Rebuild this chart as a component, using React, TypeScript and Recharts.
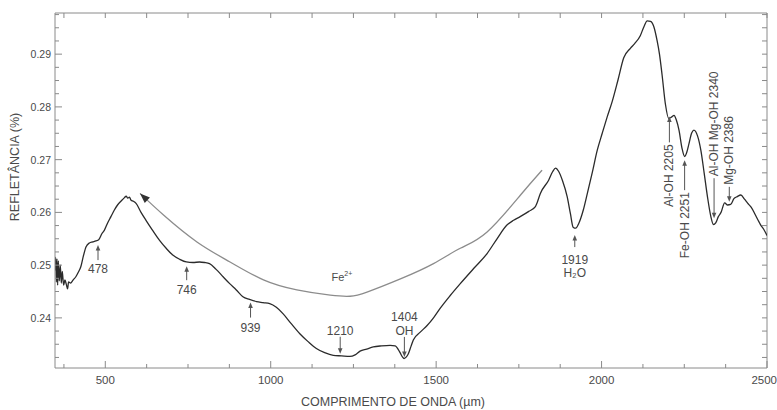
import React from 'react';
import { LineChart, Line, XAxis, YAxis, ReferenceDot } from 'recharts';

// reflectance spectrum
const wavelength = [
  348, 350, 352, 354, 356, 358, 361, 364, 367, 370,
  374, 378, 382, 386, 389, 395, 403, 411, 418, 426,
  434, 442, 452, 462, 472, 480, 490, 497, 507, 517,
  527, 537, 550, 558, 563, 568, 573, 578, 585, 593,
  608, 623, 643, 664, 684, 704, 725, 745, 765, 785,
  800, 815, 835, 856, 876, 896, 916, 936, 957, 977,
  997, 1017, 1037, 1062, 1088, 1113, 1138, 1163, 1189, 1214,
  1239, 1255, 1270, 1290, 1310, 1335, 1361, 1376, 1391, 1398,
  1403, 1410, 1416, 1424, 1431, 1452, 1472, 1492, 1512, 1542,
  1573, 1614, 1654, 1684, 1714, 1734, 1754, 1780, 1800, 1805,
  1815, 1840, 1852, 1861, 1870, 1882, 1896, 1906, 1914, 1922,
  1931, 1945, 1957, 1972, 1987, 2002, 2017, 2032, 2050, 2067,
  2087, 2100, 2117, 2128, 2138, 2148, 2158, 2168, 2175, 2183,
  2193, 2203, 2212, 2219, 2226, 2234, 2243, 2251, 2258, 2264,
  2272, 2279, 2290, 2300, 2310, 2320, 2330, 2338, 2345, 2353,
  2361, 2372, 2381, 2390, 2400, 2410, 2421, 2432, 2442, 2452,
  2465, 2475, 2482, 2490, 2500,
];
const reflectance = [
  0.2490, 0.2515, 0.2468, 0.2512, 0.2462, 0.2508, 0.2470, 0.2500, 0.2466, 0.2488,
  0.2462, 0.2472, 0.2464, 0.2455, 0.2468, 0.2466, 0.2472, 0.2478, 0.2486, 0.2497,
  0.2518, 0.2535, 0.2542, 0.2544, 0.2546, 0.2548, 0.2560, 0.2566, 0.2580, 0.2592,
  0.2604, 0.2614, 0.2623, 0.2628, 0.2631, 0.2627, 0.2629, 0.2623, 0.2621, 0.2617,
  0.2600, 0.2585, 0.2566, 0.2547, 0.2532, 0.2519, 0.2511, 0.2506, 0.2505, 0.2506,
  0.2505, 0.2503, 0.2492, 0.2478, 0.2465, 0.2453, 0.2440, 0.2435, 0.2431, 0.2429,
  0.2427, 0.2420, 0.2408, 0.2389, 0.2370, 0.2355, 0.2342, 0.2334, 0.2329, 0.2328,
  0.2327, 0.2330, 0.2337, 0.2341, 0.2345, 0.2347, 0.2348, 0.2347, 0.2334, 0.2326,
  0.2323, 0.2326, 0.2332, 0.2346, 0.2358, 0.2373, 0.2385, 0.2400, 0.2418, 0.2442,
  0.2465, 0.2494, 0.2522, 0.2550, 0.2576, 0.2585, 0.2592, 0.2602, 0.2611, 0.2618,
  0.2636, 0.2661, 0.2677, 0.2684, 0.2678, 0.2660, 0.2630, 0.2597, 0.2572, 0.2570,
  0.2579, 0.2605, 0.2636, 0.2676, 0.2718, 0.2750, 0.2781, 0.2810, 0.2852, 0.2893,
  0.2911, 0.2920, 0.2935, 0.2952, 0.2963, 0.2962, 0.2952, 0.2925, 0.2900, 0.2860,
  0.2805, 0.2778, 0.2781, 0.2784, 0.2775, 0.2756, 0.2722, 0.2706, 0.2715, 0.2730,
  0.2750, 0.2756, 0.2745, 0.2718, 0.2675, 0.2630, 0.2593, 0.2577, 0.2580, 0.2592,
  0.2600, 0.2618, 0.2614, 0.2615, 0.2626, 0.2630, 0.2633, 0.2625, 0.2617, 0.2610,
  0.2595, 0.2583, 0.2575, 0.2568, 0.2556,
];

// Fe2+ continuum arc (gray, arrow at its left end)
const arcWavelength = [605, 676, 777, 877, 978, 1079, 1180, 1240, 1291, 1392, 1492, 1573, 1654, 1755, 1820];
const arcReflectance = [0.2636, 0.2595, 0.2544, 0.2506, 0.2472, 0.2453, 0.2443, 0.2441, 0.2449, 0.2474, 0.2503, 0.2532, 0.2563, 0.2633, 0.2680];

// absorption features: arrow tip position + label
const bandWavelength = [478, 746, 939, 1210, 1404, 1919, 2205, 2251, 2340, 2386];
const bandReflectance = [0.2538, 0.2498, 0.2429, 0.2332, 0.2326, 0.2557, 0.2782, 0.2699, 0.2589, 0.2620];
const bandLabels = [
  ['478'], ['746'], ['939'], ['1210'], ['1404', 'OH'], ['1919', 'H₂O'],
  ['Al-OH 2205'], ['Fe-OH 2251'], ['Al-OH Mg-OH 2340'], ['Mg-OH 2386'],
];

const xTicks = [375, 500, 625, 750, 875, 1000, 1125, 1250, 1375, 1500, 1625, 1750, 1875, 2000, 2125, 2250, 2375, 2500];
const yTicks = [
  0.2325, 0.235, 0.2375, 0.24, 0.2425, 0.245, 0.2475, 0.25, 0.2525, 0.255,
  0.2575, 0.26, 0.2625, 0.265, 0.2675, 0.27, 0.2725, 0.275, 0.2775, 0.28,
  0.2825, 0.285, 0.2875, 0.29, 0.2925, 0.295, 0.2975,
];

const X_DOMAIN = [348, 2500];
const Y_DOMAIN = [0.2305, 0.2978];

const spectrum = wavelength.map((w, i) => ({ w, r: reflectance[i] }));
const arc = arcWavelength.map((w, i) => ({ w, r: arcReflectance[i] }));

// chart box (margins + left axis width) -- used for the top/right frame only
const W = 777;
const H = 410;
const MARGIN = { top: 13, right: 10, left: 0, bottom: 0 };
const Y_AXIS_W = 55;
const X_AXIS_H = 42;
const PLOT = {
  left: MARGIN.left + Y_AXIS_W,
  top: MARGIN.top,
  right: W - MARGIN.right,
  bottom: H - MARGIN.bottom - X_AXIS_H,
};
const frameX = (v: number) => PLOT.left + ((v - X_DOMAIN[0]) / (X_DOMAIN[1] - X_DOMAIN[0])) * (PLOT.right - PLOT.left);
const frameY = (v: number) => PLOT.bottom - ((v - Y_DOMAIN[0]) / (Y_DOMAIN[1] - Y_DOMAIN[0])) * (PLOT.bottom - PLOT.top);

// arrow/label drawing: direction, shaft length, label offsets
const bandLayout: Record<string, { dir: 'up' | 'down'; shaft: number; offs?: number[]; rot?: boolean }> = {
  '478': { dir: 'up', shaft: 15, offs: [24] },
  '746': { dir: 'up', shaft: 14, offs: [24] },
  '939': { dir: 'up', shaft: 15, offs: [25] },
  '1210': { dir: 'down', shaft: 17, offs: [23] },
  '1404': { dir: 'down', shaft: 20, offs: [40, 26] },
  '1919': { dir: 'up', shaft: 12, offs: [25, 38] },
  'Al-OH 2205': { dir: 'up', shaft: 26, rot: true },
  'Fe-OH 2251': { dir: 'up', shaft: 30, rot: true },
  'Al-OH Mg-OH 2340': { dir: 'down', shaft: 40, rot: true },
  'Mg-OH 2386': { dir: 'down', shaft: 15, rot: true },
};

const FONT = '"Liberation Sans", Arial, sans-serif';
const TEXT = '#4a4a4a';
const FRAME = '#8a8a8a';

const isMajorX = (v: number) => v % 500 === 0;
const isMajorY = (v: number) => Math.abs(v * 100 - Math.round(v * 100)) < 1e-6;

const BottomTick = ({ x, y, payload }: any) => {
  const major = isMajorX(payload.value);
  const last = payload.value === 2500;
  return (
    <g>
      <line x1={x} x2={x} y1={y} y2={y - (major ? 7 : 4)} stroke={FRAME} />
      {major && (
        <text x={last ? x + 10 : x} y={y + 12} textAnchor={last ? 'end' : 'middle'} dominantBaseline="central" fontSize={11.5} fill={TEXT} fontFamily={FONT}>
          {payload.value}
        </text>
      )}
    </g>
  );
};
const LeftTick = ({ x, y, payload }: any) => {
  const major = isMajorY(payload.value);
  return (
    <g>
      <line x1={x} x2={x + (major ? 7 : 4)} y1={y} y2={y} stroke={FRAME} />
      {major && (
        <text x={x - 4} y={y} textAnchor="end" dominantBaseline="central" fontSize={10.5} fill={TEXT} fontFamily={FONT}>
          {payload.value.toFixed(2)}
        </text>
      )}
    </g>
  );
};

const BandArrow = ({ cx, cy, label }: any) => {
  const lines: string[] = label;
  const lay = bandLayout[lines[0]];
  const s = lay.dir === 'up' ? 1 : -1;
  const tail = cy + s * lay.shaft;
  const head = `${cx},${cy} ${cx - 2.3},${cy + s * 5.5} ${cx + 2.3},${cy + s * 5.5}`;
  return (
    <g>
      <line x1={cx} x2={cx} y1={cy + s * 3} y2={tail} stroke="#555" strokeWidth={1} />
      <polygon points={head} fill="#555" />
      {lay.rot ? (
        <text
          x={cx}
          y={tail + s * 2}
          transform={`rotate(-90, ${cx}, ${tail + s * 2})`}
          textAnchor={lay.dir === 'up' ? 'end' : 'start'}
          dominantBaseline="central"
          fontSize={12}
          fill={TEXT}
          fontFamily={FONT}
        >
          {lines[0]}
        </text>
      ) : (
        lines.map((t, i) => (
          <text
            key={t}
            x={cx}
            y={cy + s * (lay.offs as number[])[i]}
            textAnchor="middle"
            dominantBaseline="central"
            fontSize={12}
            fill={TEXT}
            fontFamily={FONT}
          >
            {t}
          </text>
        ))
      )}
    </g>
  );
};

const ArcDot = ({ cx, cy, index }: any) => {
  if (index !== 0) return <g key={`d${index}`} />;
  return (
    <polygon
      key="arrowhead"
      points={`${cx},${cy} ${cx - 10},${cy - 3.8} ${cx - 10},${cy + 3.8}`}
      transform={`rotate(223, ${cx}, ${cy})`}
      fill="#333"
    />
  );
};

export default function App() {
  return (
    <div style={{ position: 'absolute', left: 0, top: 0, background: '#fff' }}>
      <LineChart width={W} height={H} margin={MARGIN}>
        <XAxis
          dataKey="w"
          type="number"
          domain={X_DOMAIN}
          allowDataOverflow
          ticks={xTicks}
          interval={0}
          height={X_AXIS_H}
          tickSize={0}
          tickMargin={0}
          tickLine={false}
          stroke={FRAME}
          tick={<BottomTick />}
          label={{
            content: ({ viewBox }: any) => (
              <text x={viewBox.x + 338} y={viewBox.y + 34} textAnchor="middle" dominantBaseline="central" fontSize={12.5} fill={TEXT} fontFamily={FONT}>
                COMPRIMENTO DE ONDA (µm)
              </text>
            ),
          }}
        />
        <YAxis
          type="number"
          domain={Y_DOMAIN}
          allowDataOverflow
          ticks={yTicks}
          interval={0}
          width={Y_AXIS_W}
          tickSize={0}
          tickMargin={0}
          tickLine={false}
          stroke={FRAME}
          tick={<LeftTick />}
          label={{
            content: ({ viewBox }: any) => {
              const x = viewBox.x + 15;
              const y = viewBox.y + 154;
              return (
                <text x={x} y={y} transform={`rotate(-90, ${x}, ${y})`} textAnchor="middle" dominantBaseline="central" fontSize={12.5} fill={TEXT} fontFamily={FONT}>
                  REFLETÂNCIA (%)
                </text>
              );
            },
          }}
        />

        {/* top and right edges of the box, with inward ticks */}
        <g className="frame" stroke={FRAME} strokeWidth={1}>
          <line x1={PLOT.left} x2={PLOT.right} y1={PLOT.top} y2={PLOT.top} />
          <line x1={PLOT.right} x2={PLOT.right} y1={PLOT.top} y2={PLOT.bottom} />
          {xTicks.map((t) => (
            <line key={`tt${t}`} x1={frameX(t)} x2={frameX(t)} y1={PLOT.top} y2={PLOT.top + 5} />
          ))}
          {yTicks.map((t) => (
            <line key={`rt${t}`} x1={PLOT.right} x2={PLOT.right - 5} y1={frameY(t)} y2={frameY(t)} />
          ))}
        </g>

        <Line
          data={arc}
          dataKey="r"
          type="natural"
          stroke="#8c8c8c"
          strokeWidth={1.3}
          dot={<ArcDot />}
          activeDot={false}
          isAnimationActive={false}
        />
        <Line
          data={spectrum}
          dataKey="r"
          type="monotone"
          stroke="#2b2b2b"
          strokeWidth={1.3}
          dot={false}
          activeDot={false}
          isAnimationActive={false}
        />
        {bandWavelength.map((w, i) => (
          <ReferenceDot
            key={w}
            x={w}
            y={bandReflectance[i]}
            r={0}
            shape={(p: any) => <BandArrow cx={p.cx} cy={p.cy} label={bandLabels[i]} />}
          />
        ))}
        <ReferenceDot
          x={1215}
          y={0.2478}
          r={0}
          shape={(p: any) => (
            <text x={p.cx} y={p.cy} textAnchor="middle" dominantBaseline="central" fontSize={11} fill={TEXT} fontFamily={FONT}>
              Fe<tspan dy={-4} fontSize={7}>2+</tspan>
            </text>
          )}
        />
      </LineChart>
    </div>
  );
}
